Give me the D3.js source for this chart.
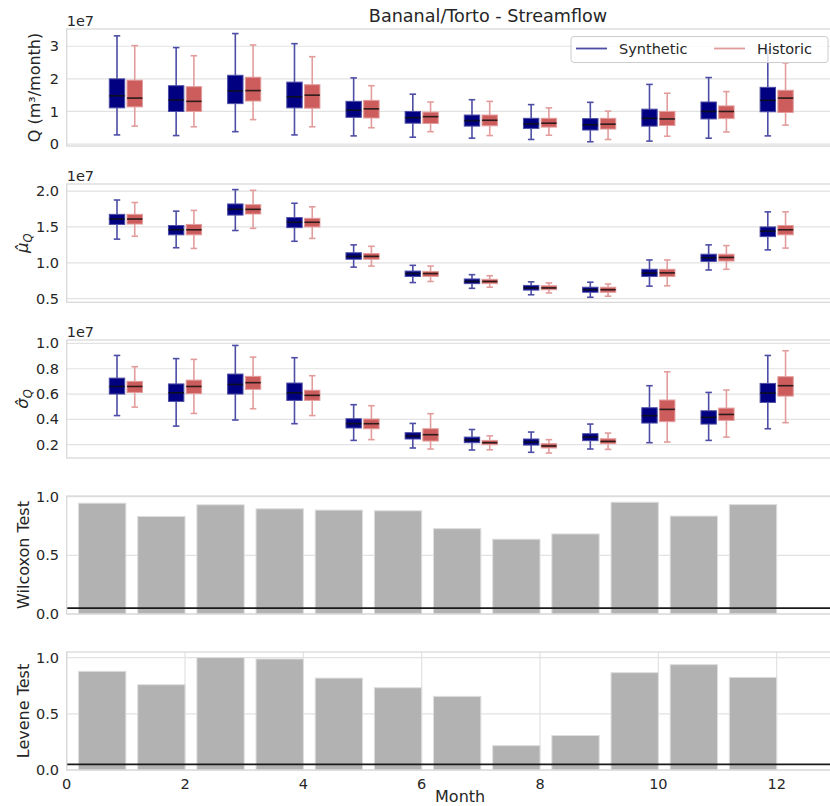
<!DOCTYPE html>
<html>
<head>
<meta charset="utf-8">
<script src="https://cdn.jsdelivr.net/npm/d3@7"></script>
<style>
  body { margin: 0; background: #fff; }
  svg { font-family: "DejaVu Sans", sans-serif; }
</style>
</head>
<body>
<svg width="830" height="806"></svg>
<script>
// # Data #
const months = [1, 2, 3, 4, 5, 6, 7, 8, 9, 10, 11, 12];

// [whisker low, Q1, median, Q3, whisker high] in units of 1e7
const qSynthetic = [
  [0.28, 1.11, 1.48, 2.00, 3.32], [0.26, 1.00, 1.35, 1.79, 2.96], [0.38, 1.24, 1.63, 2.11, 3.39],
  [0.28, 1.11, 1.45, 1.90, 3.08], [0.25, 0.82, 1.04, 1.31, 2.03], [0.21, 0.64, 0.81, 1.00, 1.53],
  [0.18, 0.55, 0.72, 0.89, 1.36], [0.14, 0.48, 0.62, 0.79, 1.21], [0.07, 0.43, 0.59, 0.78, 1.28],
  [0.09, 0.55, 0.79, 1.07, 1.83], [0.18, 0.77, 1.00, 1.29, 2.04], [0.25, 0.99, 1.34, 1.74, 2.88]
];
const qHistoric = [
  [0.55, 1.14, 1.41, 1.96, 3.02], [0.53, 1.00, 1.31, 1.76, 2.71], [0.75, 1.32, 1.64, 2.05, 3.04],
  [0.53, 1.10, 1.50, 1.82, 2.68], [0.50, 0.80, 1.08, 1.34, 1.79], [0.38, 0.63, 0.84, 0.98, 1.29],
  [0.26, 0.56, 0.73, 0.89, 1.31], [0.27, 0.52, 0.64, 0.79, 1.11], [0.14, 0.46, 0.61, 0.79, 1.01],
  [0.24, 0.57, 0.77, 1.00, 1.56], [0.37, 0.78, 1.00, 1.17, 1.61], [0.58, 0.97, 1.41, 1.65, 2.49]
];
const muSynthetic = [
  [1.33, 1.535, 1.61, 1.675, 1.875], [1.21, 1.39, 1.46, 1.52, 1.72], [1.45, 1.665, 1.745, 1.82, 2.02],
  [1.30, 1.49, 1.565, 1.63, 1.83], [0.94, 1.05, 1.09, 1.14, 1.25], [0.725, 0.81, 0.85, 0.885, 0.965],
  [0.645, 0.71, 0.74, 0.775, 0.835], [0.555, 0.62, 0.65, 0.685, 0.735], [0.52, 0.59, 0.625, 0.66, 0.73],
  [0.675, 0.81, 0.855, 0.91, 1.04], [0.90, 1.02, 1.07, 1.12, 1.25], [1.18, 1.365, 1.44, 1.50, 1.71]
];
const muHistoric = [
  [1.37, 1.54, 1.61, 1.675, 1.84], [1.20, 1.39, 1.46, 1.535, 1.73], [1.48, 1.68, 1.745, 1.81, 2.01],
  [1.34, 1.50, 1.565, 1.62, 1.78], [0.955, 1.05, 1.09, 1.13, 1.23], [0.74, 0.81, 0.85, 0.88, 0.955],
  [0.66, 0.71, 0.74, 0.77, 0.82], [0.58, 0.625, 0.65, 0.68, 0.72], [0.535, 0.59, 0.625, 0.66, 0.705],
  [0.68, 0.81, 0.86, 0.91, 1.04], [0.91, 1.025, 1.075, 1.12, 1.24], [1.205, 1.39, 1.46, 1.52, 1.71]
];
const sigmaSynthetic = [
  [0.43, 0.60, 0.66, 0.726, 0.905], [0.347, 0.542, 0.61, 0.68, 0.88], [0.395, 0.60, 0.676, 0.758, 0.984],
  [0.366, 0.55, 0.61, 0.687, 0.887], [0.234, 0.332, 0.366, 0.405, 0.516], [0.174, 0.245, 0.268, 0.295, 0.368],
  [0.158, 0.216, 0.237, 0.26, 0.32], [0.14, 0.197, 0.221, 0.245, 0.30], [0.166, 0.232, 0.26, 0.287, 0.363],
  [0.216, 0.371, 0.429, 0.492, 0.666], [0.234, 0.363, 0.416, 0.468, 0.613], [0.326, 0.534, 0.608, 0.684, 0.905]
];
const sigmaHistoric = [
  [0.497, 0.613, 0.66, 0.70, 0.816], [0.447, 0.603, 0.66, 0.71, 0.874], [0.484, 0.637, 0.69, 0.74, 0.892],
  [0.43, 0.55, 0.59, 0.63, 0.745], [0.24, 0.326, 0.366, 0.403, 0.508], [0.166, 0.229, 0.279, 0.326, 0.445],
  [0.16, 0.20, 0.216, 0.234, 0.27], [0.134, 0.174, 0.19, 0.208, 0.24], [0.163, 0.208, 0.226, 0.247, 0.292],
  [0.221, 0.382, 0.479, 0.553, 0.776], [0.26, 0.392, 0.439, 0.489, 0.632], [0.374, 0.584, 0.666, 0.737, 0.942]
];

// p-values
const wilcoxon = [0.944, 0.831, 0.93, 0.896, 0.885, 0.879, 0.727, 0.637, 0.682, 0.952, 0.834, 0.932];
const levene = [0.878, 0.759, 1.0, 0.988, 0.818, 0.732, 0.655, 0.217, 0.307, 0.866, 0.9375, 0.824];
const alpha = 0.05;

const xTicks = [0, 2, 4, 6, 8, 10, 12];
const seriesNames = ['Synthetic', 'Historic'];

// # Style #
const textColor = '#262626';
const gridColor = '#e2e2e2';
const frameColor = '#d9d9d9';
const synthFill = '#000080';
const synthLine = '#4d4da6';
const histFill = '#cd5c5c';
const histLine = '#e39c9c';
const tickSize = 14.5;
const labelSize = 16;

let svg = d3.select('svg');

let x = d3.scaleLinear().domain([0, 13.3]).range([66.7, 853.6]);

const panels = [
  { kind: 'box', top: 29, bottom: 146, domain: [-0.06, 3.53], ticks: [0, 1, 2, 3], fmt: d3.format('d'),
    synth: qSynthetic, hist: qHistoric, label: 'Q (m³/month)', labelX: 40, offset: true },
  { kind: 'box', top: 184, bottom: 302.3, domain: [0.45, 2.098], ticks: [0.5, 1.0, 1.5, 2.0], fmt: d3.format('.1f'),
    synth: muSynthetic, hist: muHistoric, label: 'μ', labelX: 28, offset: true, math: true },
  { kind: 'box', top: 340, bottom: 458, domain: [0.095, 1.027], ticks: [0.2, 0.4, 0.6, 0.8, 1.0], fmt: d3.format('.1f'),
    synth: sigmaSynthetic, hist: sigmaHistoric, label: 'σ', labelX: 28, offset: true, math: true },
  { kind: 'bar', top: 496, bottom: 614, domain: [0, 1.005], ticks: [0, 0.5, 1.0], fmt: d3.format('.1f'),
    values: wilcoxon, label: 'Wilcoxon Test', labelX: 28.5 },
  { kind: 'bar', top: 652, bottom: 770, domain: [0, 1.05], ticks: [0, 0.5, 1.0], fmt: d3.format('.1f'),
    values: levene, label: 'Levene Test', labelX: 28.5, vgrid: true, xAxis: true }
];

svg.append('defs').append('clipPath').attr('id', 'plot-clip')
  .append('rect').attr('x', 0).attr('y', 0).attr('width', 830).attr('height', 806);

// Title
svg.append('text')
  .attr('x', 488).attr('y', 21.5)
  .attr('text-anchor', 'middle')
  .attr('font-size', 17.6)
  .attr('fill', textColor)
  .text('Bananal/Torto - Streamflow');

function drawBoxes(g, y, data, shift, fill, line) {
  const boxW = x(0.26) - x(0);
  const capW = x(0.11) - x(0);
  const grp = g.append('g');
  data.forEach((d, i) => {
    const cx = x(months[i] + shift);
    const [lo, q1, med, q3, hi] = d;
    // whiskers
    grp.append('line').attr('x1', cx).attr('x2', cx).attr('y1', y(lo)).attr('y2', y(q1))
      .attr('stroke', line).attr('stroke-width', 1.6);
    grp.append('line').attr('x1', cx).attr('x2', cx).attr('y1', y(q3)).attr('y2', y(hi))
      .attr('stroke', line).attr('stroke-width', 1.6);
    [lo, hi].forEach(v => {
      grp.append('line').attr('x1', cx - capW / 2).attr('x2', cx + capW / 2).attr('y1', y(v)).attr('y2', y(v))
        .attr('stroke', line).attr('stroke-width', 1.6);
    });
    // box
    grp.append('rect')
      .attr('x', cx - boxW / 2).attr('y', y(q3))
      .attr('width', boxW).attr('height', y(q1) - y(q3))
      .attr('fill', fill).attr('stroke', line).attr('stroke-width', 1);
    // median
    grp.append('line').attr('x1', cx - boxW / 2).attr('x2', cx + boxW / 2).attr('y1', y(med)).attr('y2', y(med))
      .attr('stroke', '#111').attr('stroke-opacity', 0.85).attr('stroke-width', 1.6);
  });
}

panels.forEach(p => {
  let y = d3.scaleLinear().domain(p.domain).range([p.bottom, p.top]);
  let g = svg.append('g').attr('clip-path', 'url(#plot-clip)');

  // grid
  g.selectAll('.hgrid').data(p.ticks).join('line')
    .attr('x1', x.range()[0]).attr('x2', x.range()[1])
    .attr('y1', d => y(d)).attr('y2', d => y(d))
    .attr('stroke', gridColor).attr('stroke-width', 1.2);
  if (p.vgrid) {
    g.selectAll('.vgrid').data(xTicks).join('line')
      .attr('x1', d => x(d)).attr('x2', d => x(d))
      .attr('y1', p.top).attr('y2', p.bottom)
      .attr('stroke', gridColor).attr('stroke-width', 1.2);
  }

  if (p.kind === 'box') {
    drawBoxes(g, y, p.synth, -0.15, synthFill, synthLine);
    drawBoxes(g, y, p.hist, 0.15, histFill, histLine);
  } else {
    g.selectAll('.bar').data(p.values).join('rect')
      .attr('x', (d, i) => x(months[i] - 0.8))
      .attr('width', x(0.8) - x(0))
      .attr('y', d => y(d))
      .attr('height', d => y(0) - y(d))
      .attr('fill', '#b2b2b2')
      .attr('stroke', '#dedede').attr('stroke-width', 1);
    g.append('line')
      .attr('x1', x.range()[0]).attr('x2', x.range()[1])
      .attr('y1', y(alpha)).attr('y2', y(alpha))
      .attr('stroke', '#1a1a1a').attr('stroke-width', 1.6);
  }

  // frame
  g.append('rect')
    .attr('x', x.range()[0]).attr('y', p.top)
    .attr('width', x.range()[1] - x.range()[0]).attr('height', p.bottom - p.top)
    .attr('fill', 'none').attr('stroke', frameColor).attr('stroke-width', 1.3);

  // y tick labels
  svg.append('g').selectAll('text').data(p.ticks).join('text')
    .attr('x', 59).attr('y', d => y(d))
    .attr('dy', '0.35em')
    .attr('text-anchor', 'end')
    .attr('font-size', tickSize)
    .attr('fill', textColor)
    .text(p.fmt);

  if (p.offset) {
    svg.append('text')
      .attr('x', x.range()[0]).attr('y', p.top - 3.5)
      .attr('font-size', tickSize).attr('fill', textColor)
      .text('1e7');
  }

  // y label
  let lab = svg.append('text')
    .attr('transform', `translate(${p.labelX},${(p.top + p.bottom) / 2}) rotate(-90)`)
    .attr('text-anchor', 'middle')
    .attr('font-size', labelSize)
    .attr('fill', textColor);
  if (p.math) {
    lab.append('tspan').attr('font-style', 'italic').attr('font-size', 16.5).text(p.label + '\u0302');
    lab.append('tspan').attr('font-style', 'italic').attr('font-size', 11.5).attr('dy', 4).text('Q');
  } else {
    lab.text(p.label);
  }

  if (p.xAxis) {
    svg.append('g').selectAll('text').data(xTicks).join('text')
      .attr('x', d => x(d)).attr('y', 789)
      .attr('text-anchor', 'middle')
      .attr('font-size', tickSize).attr('fill', textColor)
      .text(d => d);
    svg.append('text')
      .attr('x', x(6.65)).attr('y', 801.5)
      .attr('text-anchor', 'middle')
      .attr('font-size', labelSize).attr('fill', textColor)
      .text('Month');
  }
});

// # Legend #
let legend = svg.append('g');
legend.append('rect')
  .attr('x', 571).attr('y', 36.5).attr('width', 257).attr('height', 26).attr('rx', 3)
  .attr('fill', '#fff').attr('fill-opacity', 0.8)
  .attr('stroke', '#cccccc').attr('stroke-width', 1);
const legendItems = [
  { name: seriesNames[0], color: synthLine, x0: 576 },
  { name: seriesNames[1], color: histLine, x0: 714 }
];
legendItems.forEach(it => {
  legend.append('line')
    .attr('x1', it.x0).attr('x2', it.x0 + 31).attr('y1', 48.5).attr('y2', 48.5)
    .attr('stroke', it.color).attr('stroke-width', 1.8);
  legend.append('text')
    .attr('x', it.x0 + 43).attr('y', 48.5).attr('dy', '0.35em')
    .attr('font-size', tickSize).attr('fill', textColor)
    .text(it.name);
});
</script>
</body>
</html>
